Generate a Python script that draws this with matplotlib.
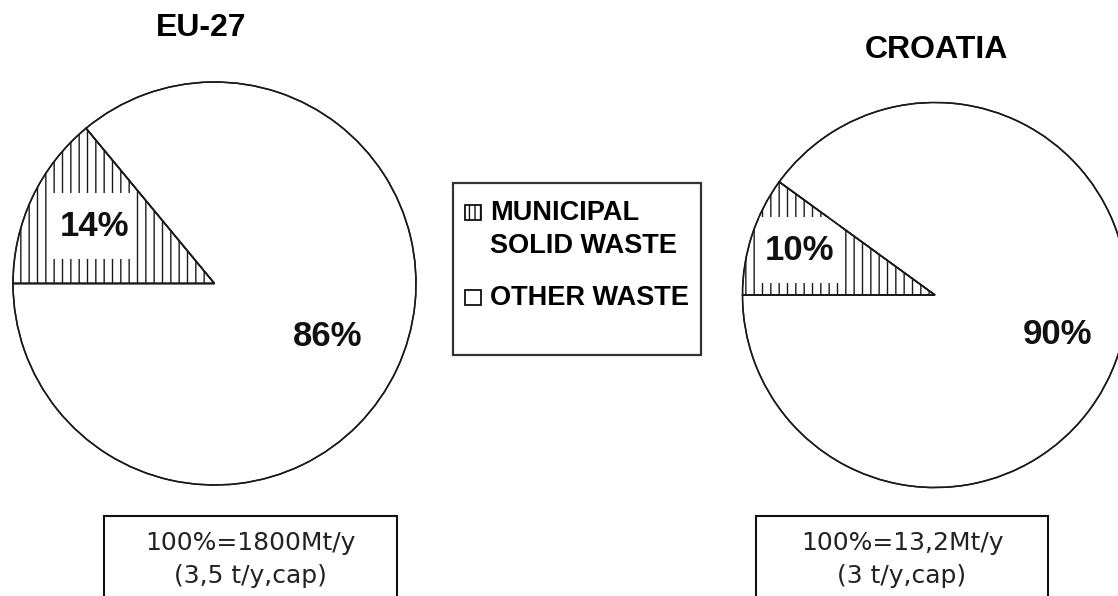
import numpy as np
import matplotlib
matplotlib.use("Agg")
import matplotlib.pyplot as plt
from matplotlib.patches import Rectangle, Wedge

# ---- data ----
regions = ["EU-27", "CROATIA"]
categories = ["MUNICIPAL\nSOLID WASTE", "OTHER WASTE"]
eu_values = [14, 86]
hr_values = [10, 90]
totals = ["100%=1800Mt/y\n(3,5 t/y,cap)", "100%=13,2Mt/y\n(3 t/y,cap)"]

W, H = 1118, 596
DPI = 100
plt.rcParams['hatch.linewidth'] = 1.0
plt.rcParams['font.family'] = ['Liberation Sans', 'DejaVu Sans']

fig = plt.figure(figsize=(W / DPI, H / DPI), dpi=DPI)
fig.patch.set_facecolor('white')


def pix_axes(cx, cy, r):
    return fig.add_axes([(cx - r) / W, (H - cy - r) / H, 2 * r / W, 2 * r / H])


hatches = ['||', '']
# (values, (centre x, centre y, radius) in px, label distances, label box w/h in px)
pie_specs = [
    (eu_values, (214.5, 283.5, 202.5), [0.66, 0.62], (85, 67)),
    (hr_values, (935.0, 295.0, 193.5), [0.74, 0.67], (82, 67)),
]

for vals, (cx, cy, r), dists, (bw, bh) in pie_specs:
    ax = pix_axes(cx, cy, r)
    wedges, texts, autotexts = ax.pie(
        vals, startangle=180, counterclock=False,
        colors=['white', 'white'], hatch=hatches,
        autopct=lambda p: f'{p:.0f}%',
        wedgeprops=dict(edgecolor='#1a1a1a', linewidth=1.1),
        textprops=dict(fontsize=25, fontweight='bold', color='#111111'))
    ax.set_xlim(-1.005, 1.005)
    ax.set_ylim(-1.005, 1.005)
    for i, (w, t) in enumerate(zip(wedges, autotexts)):
        ang = np.deg2rad((w.theta1 + w.theta2) / 2)
        px, py = dists[i] * np.cos(ang), dists[i] * np.sin(ang)
        t.set_position((px, py))
        t.set_ha('center'); t.set_va('center')
        t.set_zorder(5)
        if i == 0:
            ww, hh = bw / r, bh / r
            ax.add_patch(Rectangle((px - ww / 2, py - hh / 2 + 1.0 / r), ww, hh,
                                   facecolor='white', edgecolor='none', zorder=3))
        # outline redrawn on top of the label background
        ax.add_patch(Wedge(w.center, w.r, w.theta1, w.theta2, fill=False,
                           edgecolor='#1a1a1a', linewidth=1.1, zorder=4))

# ---- overlay for titles, legend and footnote boxes ----
ov = fig.add_axes([0, 0, 1, 1], zorder=-1)
ov.set_xlim(0, W); ov.set_ylim(H, 0); ov.axis('off')

ov.text(201, 28, regions[0], ha='center', va='center', fontsize=23, fontweight='bold')
ov.text(936, 50, regions[1], ha='center', va='center', fontsize=23, fontweight='bold')

# legend
ov.add_patch(Rectangle((453, 183), 248, 172, facecolor='white', edgecolor='#333333', lw=1.6))
ov.add_patch(Rectangle((465, 205), 16, 15, facecolor='white', edgecolor='#111111', lw=1.3, hatch='|||'))
ov.add_patch(Rectangle((465, 290), 16, 15, facecolor='white', edgecolor='#111111', lw=1.3))
lab1 = categories[0].split('\n')
ov.text(490, 220, lab1[0], ha='left', va='baseline', fontsize=19.5, fontweight='bold')
ov.text(490, 253, lab1[1], ha='left', va='baseline', fontsize=19.5, fontweight='bold')
ov.text(490, 305, categories[1], ha='left', va='baseline', fontsize=19.5, fontweight='bold')

# footnote boxes
for (x0, x1), txt in zip([(104, 397), (756, 1048)], totals):
    ov.add_patch(Rectangle((x0, 516), x1 - x0, 100, facecolor='white', edgecolor='#111111', lw=1.5))
    l1, l2 = txt.split('\n')
    xc = (x0 + x1) / 2
    ov.text(xc, 550, l1, ha='center', va='baseline', fontsize=18, family='DejaVu Sans', color='#222222')
    ov.text(xc, 583, l2, ha='center', va='baseline', fontsize=18, family='DejaVu Sans', color='#222222')

fig.savefig('out.png', dpi=DPI, facecolor='white')
